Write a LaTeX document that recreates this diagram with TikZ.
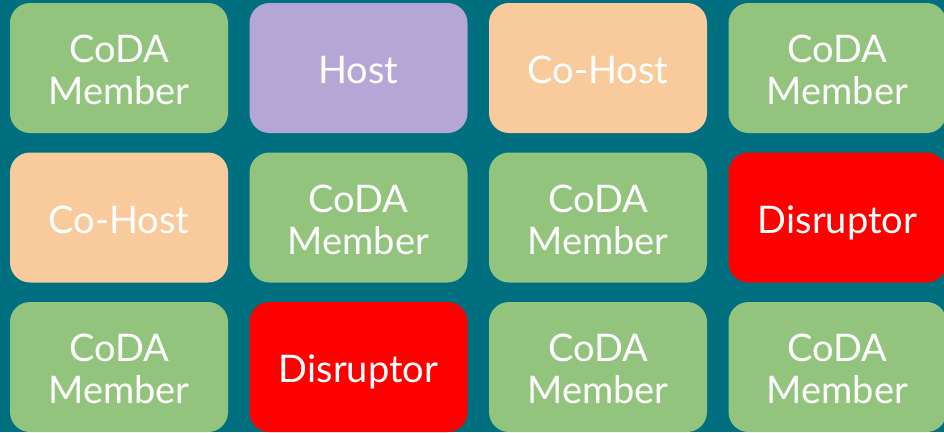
\documentclass[tikz,border=0pt]{standalone}
\usepackage{fontspec}
\setmainfont{Lato}
\definecolor{tealbg}{RGB}{0,112,128}
\definecolor{member}{RGB}{147,196,125}
\definecolor{host}{RGB}{180,167,214}
\definecolor{cohost}{RGB}{249,203,156}
\definecolor{disruptor}{RGB}{255,0,0}
\tikzset{
  tile/.style={rounded corners=20pt, minimum width=218pt, minimum height=130pt,
    inner sep=0pt},
  membertile/.style={tile, fill=member},
  hosttile/.style={tile, fill=host},
  cohosttile/.style={tile, fill=cohost},
  disruptortile/.style={tile, fill=disruptor},
  tiletext/.style={text=white, align=center, text depth=0pt, inner sep=0pt,
    yshift=-2pt, font=\fontsize{38}{42}\selectfont}
}
\begin{document}
\begin{tikzpicture}[x=1pt,y=-1pt]
  \useasboundingbox (0,0) rectangle (944,432);
  \clip (0,0) rectangle (944,432);
  \fill[tealbg] (0,0) rectangle (944,432);
  % row 1
  \node[membertile]    (r1c1) at (119,68)    {};
  \node[hosttile]      (r1c2) at (358.5,68)  {};
  \node[cohosttile]    (r1c3) at (598,68)    {};
  \node[membertile]    (r1c4) at (837.5,68)  {};
  % row 2
  \node[cohosttile]    (r2c1) at (119,217.5)   {};
  \node[membertile]    (r2c2) at (358.5,217.5) {};
  \node[membertile]    (r2c3) at (598,217.5)   {};
  \node[disruptortile] (r2c4) at (837.5,217.5) {};
  % row 3
  \node[membertile]    (r3c1) at (119,367)   {};
  \node[disruptortile] (r3c2) at (358.5,367) {};
  \node[membertile]    (r3c3) at (598,367)   {};
  \node[membertile]    (r3c4) at (837.5,367) {};
  % labels
  \node[tiletext] (t11) at (r1c1.center) {CoDA\\Member};
  \node[tiletext] (t12) at (r1c2.center) {Host};
  \node[tiletext] (t13) at (r1c3.center) {Co-Host};
  \node[tiletext] (t14) at (r1c4.center) {CoDA\\Member};
  \node[tiletext] (t21) at (r2c1.center) {Co-Host};
  \node[tiletext] (t22) at (r2c2.center) {CoDA\\Member};
  \node[tiletext] (t23) at (r2c3.center) {CoDA\\Member};
  \node[tiletext] (t24) at (r2c4.center) {Disruptor};
  \node[tiletext] (t31) at (r3c1.center) {CoDA\\Member};
  \node[tiletext] (t32) at (r3c2.center) {Disruptor};
  \node[tiletext] (t33) at (r3c3.center) {CoDA\\Member};
  \node[tiletext] (t34) at (r3c4.center) {CoDA\\Member};
\end{tikzpicture}
\end{document}
